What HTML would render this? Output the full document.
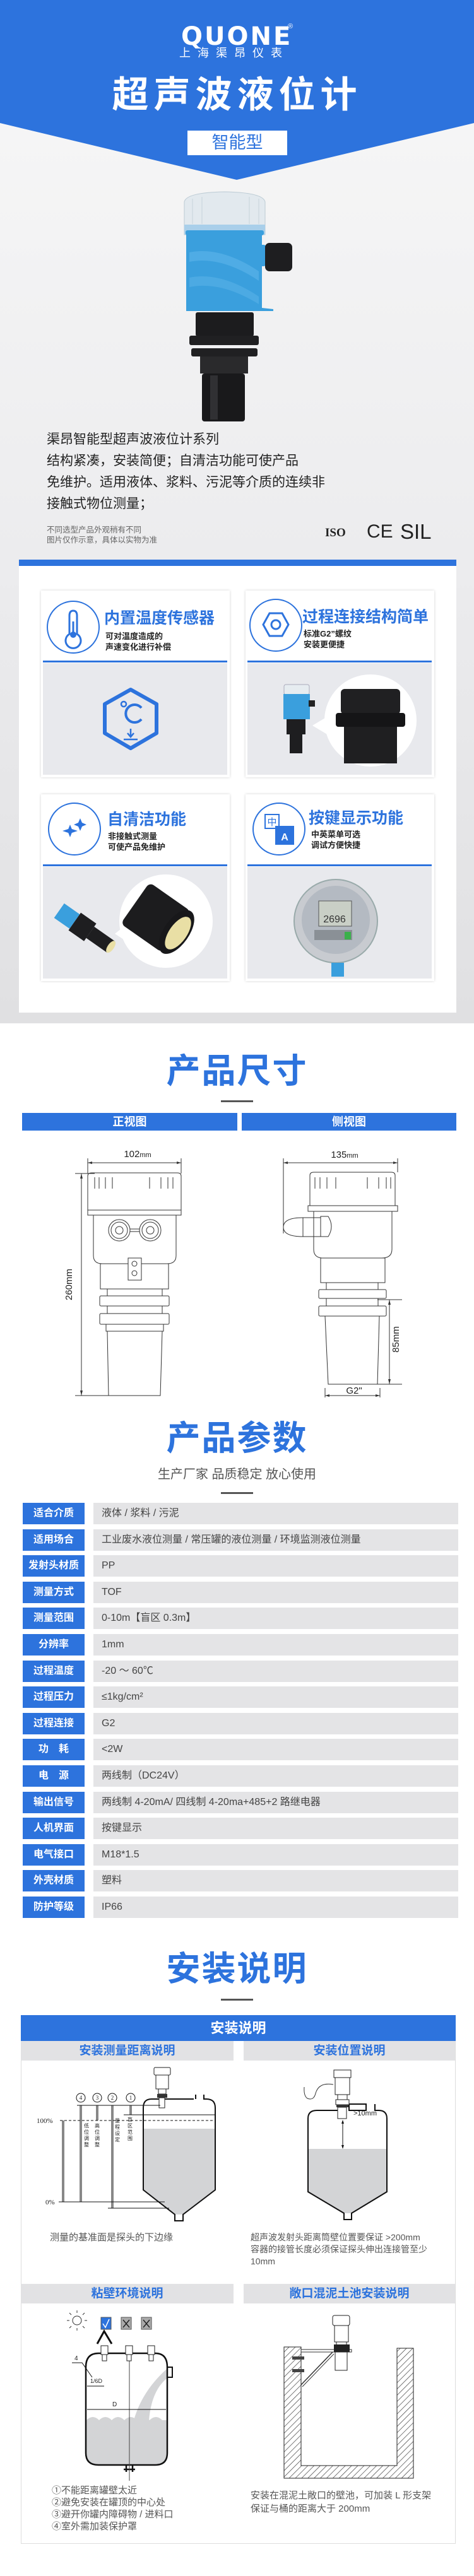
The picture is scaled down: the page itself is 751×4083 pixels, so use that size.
<!DOCTYPE html>
<html><head><meta charset="utf-8">
<style>
*{margin:0;padding:0;box-sizing:border-box}
body{width:751px;height:4083px;position:relative;background:#fff;font-family:"Liberation Sans","Noto Sans CJK SC",sans-serif;overflow:hidden}
.a{position:absolute;white-space:nowrap}
.h{font-weight:bold;color:#2d73dd;font-size:54px;line-height:60px;width:751px;left:0;text-align:center;letter-spacing:2px}
.div{position:absolute;left:350px;width:51px;height:3px;background:#555}
.card{position:absolute;width:299px;height:296px;background:#fff;box-shadow:0 0 4px rgba(0,0,0,.18)}
.ct{position:absolute;font-weight:bold;color:#2d73dd;font-size:25px;line-height:30px;white-space:nowrap}
.cs{position:absolute;font-weight:bold;color:#222;font-size:13px;line-height:17px;white-space:nowrap}
.row{position:absolute;left:36px;height:34px;width:690px}
.row .l{position:absolute;left:0;top:0;width:98px;height:34px;background:#2d73dd;color:#fff;font-weight:bold;font-size:16px;line-height:34px;text-align:center}
.row .v{position:absolute;left:112px;top:0;width:578px;height:34px;background:#e4e4e6;color:#444;font-size:16px;line-height:34px;padding-left:13px}
.sub{position:absolute;height:31px;background:#e2e2e4;color:#2d73dd;font-weight:bold;font-size:19px;line-height:31px;text-align:center}
.t15{font-size:15px;color:#555;line-height:19px}
</style></head><body>
<!-- top background -->
<div class="a" style="left:0;top:0;width:751px;height:1622px;background:linear-gradient(#f8f8f8,#ececee 55%,#e0e0e2)"></div>
<div class="a" style="left:30px;top:887px;width:693px;height:718px;background:#fff;border-top:10px solid #2d73dd"></div>

<svg class="a" style="left:0;top:0" width="751" height="4083" viewBox="0 0 751 4083" xmlns="http://www.w3.org/2000/svg">
<defs>
<pattern id="hat" width="7" height="7" patternUnits="userSpaceOnUse" patternTransform="rotate(45)"><rect width="7" height="7" fill="#fff"/><line x1="0" y1="0" x2="0" y2="7" stroke="#333" stroke-width="1.3"/></pattern>
</defs>
<polygon points="0,0 751,0 751,195 375,285 0,195" fill="#2d73dd"/>
<rect x="297" y="207" width="158" height="39" fill="#fff"/>
<!-- product -->
<g>
<rect x="310" y="495" width="92" height="38" rx="3" fill="#1c1c1e"/>
<rect x="300" y="532" width="110" height="15" rx="3" fill="#202022"/>
<rect x="303" y="552" width="105" height="13" rx="3" fill="#202022"/>
<rect x="317" y="565" width="76" height="27" fill="#2a2a2c"/>
<rect x="320" y="592" width="68" height="76" rx="4" fill="#19191b"/>
<rect x="333" y="595" width="12" height="70" fill="#303033"/>
<path d="M295,372 L415,372 L415,488 L433,490 L433,493 L295,493 Z" fill="#3a9fdd"/>
<path d="M300,400 Q350,390 410,430 L410,445 Q350,405 300,415Z" fill="#59b2e8" opacity=".7"/>
<path d="M300,440 Q350,430 410,470 L410,482 Q350,445 300,455Z" fill="#59b2e8" opacity=".6"/>
<rect x="395" y="388" width="30" height="34" rx="8" fill="#3a9fdd"/>
<rect x="420" y="385" width="43" height="45" rx="7" fill="#1e1e20"/>
<path d="M292,320 Q295,305 356,304 Q417,305 420,320 L420,372 L292,372Z" fill="#e2e9ee" stroke="#bccbd4"/>
<rect x="292" y="356" width="128" height="16" fill="#a9cfea"/>
<g stroke="#c6d2da"><line x1="305" y1="315" x2="305" y2="355"/><line x1="320" y1="312" x2="320" y2="355"/><line x1="395" y1="312" x2="395" y2="355"/><line x1="410" y1="315" x2="410" y2="355"/></g>
<rect x="294" y="365" width="124" height="8" rx="3" fill="#3a9fdd"/>
</g>
<!-- cards icons -->
<g fill="none" stroke="#2d73dd" stroke-width="2">
<circle cx="116" cy="994" r="41"/>
<circle cx="437" cy="991" r="41"/>
<circle cx="118" cy="1314" r="41"/>
<circle cx="442" cy="1314" r="41"/>
<path d="M110,1005 L110,976 Q110,968 116,968 Q122,968 122,976 L122,1005 A12,12 0 1 1 110,1005Z" stroke-width="3"/>
<polygon points="427,972 447,972 457,990 447,1008 427,1008 417,990" stroke-width="3"/>
<circle cx="437" cy="990" r="7" stroke-width="3"/>
<rect x="420" y="1291" width="22" height="22" stroke-width="2"/>
</g>
<circle cx="116" cy="1006" r="5" fill="#2d73dd"/>
<line x1="116" y1="985" x2="116" y2="1004" stroke="#2d73dd" stroke-width="3"/>
<path d="M111,1307 L115,1317 L111,1327 L107,1317Z M99,1317 L111,1313 L123,1317 L111,1321Z" fill="#2d73dd"/>
<path d="M127,1297 L130,1304 L137,1307 L130,1310 L127,1317 L124,1310 L117,1307 L124,1304Z" fill="#2d73dd"/>
<rect x="436" y="1309" width="30" height="30" fill="#2d73dd"/>
<text x="431" y="1308" font-size="15" fill="#2d73dd" text-anchor="middle" font-family="Noto Sans CJK SC">中</text>
<text x="451" y="1332" font-size="16" fill="#fff" font-weight="bold" text-anchor="middle" font-family="Liberation Sans">A</text>
<!-- card image bg -->
<rect x="68" y="1047" width="292" height="3" fill="#2d73dd"/>
<rect x="392" y="1047" width="292" height="3" fill="#2d73dd"/>
<rect x="68" y="1370" width="292" height="3" fill="#2d73dd"/>
<rect x="392" y="1370" width="292" height="3" fill="#2d73dd"/>
<rect x="68" y="1051" width="292" height="177" fill="#e8e9ed"/>
<rect x="392" y="1051" width="292" height="177" fill="#e8e9ed"/>
<rect x="68" y="1374" width="292" height="177" fill="#e8e9ed"/>
<rect x="392" y="1374" width="292" height="177" fill="#e8e9ed"/>
<polygon points="207,1093 248,1116 248,1162 207,1186 166,1162 166,1116" fill="none" stroke="#2d73dd" stroke-width="6" stroke-linejoin="round"/>
<circle cx="196" cy="1116" r="4" fill="none" stroke="#2d73dd" stroke-width="2.5"/>
<path d="M224,1122 A14,14 0 1 0 224,1140" fill="none" stroke="#2d73dd" stroke-width="4"/>
<path d="M207,1155 L207,1167 M202,1162 L207,1168 L212,1162 M196,1172 L218,1172" stroke="#2d73dd" stroke-width="2.5" fill="none"/>
<!-- card2 image -->
<rect x="450" y="1085" width="40" height="16" rx="3" fill="#e6ecf0" stroke="#aab"/>
<rect x="449" y="1100" width="42" height="40" fill="#3a9fdd"/>
<rect x="489" y="1110" width="10" height="10" fill="#222"/>
<rect x="454" y="1140" width="30" height="24" fill="#1e1e20"/>
<rect x="459" y="1164" width="20" height="30" fill="#1e1e20"/>
<polygon points="495,1150 520,1135 520,1165" fill="#fff"/>
<circle cx="587" cy="1142" r="73" fill="#fff"/>
<rect x="540" y="1092" width="94" height="40" rx="6" fill="#202022"/>
<rect x="532" y="1130" width="110" height="22" rx="4" fill="#151517"/>
<rect x="545" y="1152" width="84" height="58" fill="#1f1f21"/>
<!-- card3 image -->
<g transform="rotate(35 130 1470)"><rect x="85" y="1455" width="30" height="28" fill="#3a9fdd"/><rect x="115" y="1452" width="30" height="34" fill="#1e1e20"/><rect x="145" y="1458" width="40" height="22" fill="#1e1e20"/><ellipse cx="185" cy="1469" rx="5" ry="11" fill="#e9dfa5"/></g>
<polygon points="182,1480 205,1462 205,1495" fill="#fff"/>
<circle cx="263" cy="1460" r="74" fill="#fff"/>
<g transform="rotate(35 255 1460)"><rect x="205" y="1420" width="80" height="80" rx="8" fill="#1c1c1e"/><ellipse cx="285" cy="1460" rx="20" ry="40" fill="#18181a"/><ellipse cx="288" cy="1460" rx="14" ry="30" fill="#e9dfa5"/></g>
<!-- card4 image -->
<circle cx="532" cy="1460" r="66" fill="#c8cbd0" stroke="#9aa" stroke-width="2"/>
<circle cx="532" cy="1458" r="54" fill="#b4bac2"/>
<rect x="505" y="1428" width="52" height="40" fill="#c9cfc6" stroke="#555"/>
<text x="530" y="1462" font-size="16" fill="#333" text-anchor="middle" font-family="Liberation Sans">2696</text>
<rect x="498" y="1474" width="60" height="16" fill="#8a9096"/>
<rect x="546" y="1477" width="10" height="12" fill="#3ab04a"/>
<rect x="525" y="1526" width="20" height="22" fill="#3a9fdd"/>
<!-- dimension drawings -->
<g fill="none" stroke="#333" stroke-width="1">
<line x1="139" y1="1843" x2="287" y2="1843"/><line x1="139" y1="1836" x2="139" y2="1860"/><line x1="287" y1="1836" x2="287" y2="1860"/>
<line x1="119" y1="1860" x2="150" y2="1860"/><line x1="129" y1="1860" x2="129" y2="2212"/><line x1="119" y1="2212" x2="254" y2="2212"/>
<path d="M139,1864 Q139,1859 145,1859 L281,1859 Q287,1859 287,1864 L287,1918 L139,1918Z"/>
<rect x="139" y="1918" width="148" height="8"/>
<path d="M148,1926 L279,1926 L279,1990 Q279,2003 265,2003 L162,2003 Q148,2003 148,1990Z"/>
<circle cx="189" cy="1950" r="17"/><circle cx="189" cy="1950" r="13"/><circle cx="189" cy="1950" r="6"/>
<circle cx="238" cy="1950" r="17"/><circle cx="238" cy="1950" r="13"/><circle cx="238" cy="1950" r="6"/>
<line x1="206" y1="1948" x2="221" y2="1948"/><line x1="206" y1="1952" x2="221" y2="1952"/>
<rect x="159" y="2003" width="108" height="40"/>
<rect x="203" y="1994" width="21" height="35" fill="#fff"/>
<circle cx="213" cy="2003" r="4"/><circle cx="213" cy="2018" r="4"/>
<rect x="170" y="2043" width="87" height="11"/>
<rect x="158" y="2054" width="110" height="16" rx="2"/><rect x="170" y="2070" width="87" height="12"/>
<rect x="158" y="2082" width="110" height="17" rx="2"/>
<rect x="168" y="2099" width="91" height="11"/>
<path d="M170,2110 L257,2110 L254,2212 L172,2212Z"/>
<g stroke-width="1"><line x1="150" y1="1866" x2="150" y2="1884"/><line x1="157" y1="1866" x2="157" y2="1884"/><line x1="167" y1="1866" x2="167" y2="1884"/><line x1="178" y1="1866" x2="178" y2="1884"/><line x1="237" y1="1866" x2="237" y2="1884"/><line x1="255" y1="1866" x2="255" y2="1884"/><line x1="266" y1="1866" x2="266" y2="1884"/><line x1="274" y1="1866" x2="274" y2="1884"/></g>
<line x1="449" y1="1843" x2="630" y2="1843"/><line x1="449" y1="1836" x2="449" y2="1955"/><line x1="630" y1="1836" x2="630" y2="1858"/>
<path d="M491,1863 Q491,1858 497,1858 L620,1858 Q626,1858 626,1863 L626,1911 L491,1911Z"/>
<rect x="488" y="1911" width="142" height="9"/>
<path d="M497,1920 L621,1920 L621,1980 Q621,1994 605,1994 L512,1994 Q497,1994 497,1980Z"/>
<path d="M508,1928 L520,1928 Q530,1944 520,1960 L508,1960Z"/>
<rect x="480" y="1930" width="28" height="30"/><path d="M480,1930 Q449,1930 449,1945 Q449,1960 480,1960"/>
<rect x="508" y="1994" width="102" height="39"/>
<rect x="517" y="2033" width="82" height="11"/>
<rect x="505" y="2044" width="107" height="14" rx="2"/><rect x="517" y="2058" width="82" height="12"/>
<rect x="505" y="2070" width="107" height="16" rx="2"/>
<path d="M515,2086 L601,2086 L598,2194 L520,2194Z"/>
<line x1="598" y1="2060" x2="637" y2="2060"/><line x1="598" y1="2194" x2="637" y2="2194"/><line x1="617" y1="2060" x2="617" y2="2194"/>
<line x1="515" y1="2200" x2="515" y2="2215"/><line x1="602" y1="2200" x2="602" y2="2215"/><line x1="515" y1="2212" x2="602" y2="2212"/>
<g><line x1="499" y1="1866" x2="499" y2="1884"/><line x1="507" y1="1866" x2="507" y2="1884"/><line x1="518" y1="1866" x2="518" y2="1884"/><line x1="532" y1="1866" x2="532" y2="1884"/><line x1="582" y1="1866" x2="582" y2="1884"/><line x1="600" y1="1866" x2="600" y2="1884"/><line x1="612" y1="1866" x2="612" y2="1884"/><line x1="619" y1="1866" x2="619" y2="1884"/></g>
</g>
<g fill="#333">
<polygon points="139,1843 146,1841 146,1845"/><polygon points="287,1843 280,1841 280,1845"/>
<polygon points="129,1860 127,1868 131,1868"/><polygon points="129,2212 127,2204 131,2204"/>
<polygon points="449,1843 456,1841 456,1845"/><polygon points="630,1843 623,1841 623,1845"/>
<polygon points="617,2060 615,2068 619,2068"/><polygon points="617,2194 615,2186 619,2186"/>
<polygon points="515,2212 522,2210 522,2214"/><polygon points="602,2212 595,2210 595,2214"/>
</g>
<text x="218" y="1834" font-size="15" fill="#222" text-anchor="middle" font-family="Liberation Sans">102<tspan font-size="11">mm</tspan></text>
<text x="546" y="1835" font-size="15" fill="#222" text-anchor="middle" font-family="Liberation Sans">135<tspan font-size="11">mm</tspan></text>
<text transform="translate(114,2036) rotate(-90)" font-size="15" fill="#222" text-anchor="middle" font-family="Liberation Sans">260mm</text>
<text transform="translate(632,2123) rotate(-90)" font-size="15" fill="#222" text-anchor="middle" font-family="Liberation Sans">85mm</text>
<text x="561" y="2209" font-size="15" fill="#222" text-anchor="middle" font-family="Liberation Sans">G2"</text>
<!-- install box -->
<rect x="33.5" y="3194.5" width="688" height="837" fill="none" stroke="#ddd"/>
<!-- left install diagram -->
<path d="M227,3374 L341,3374 L341,3471 L290,3510 L277,3510 L227,3471Z" fill="#d3d4d6"/>
<path d="M307,3327 L240,3327 Q227,3327 227,3341 L227,3471 L277,3510 L277,3520 L290,3520 L290,3510 L341,3471 L341,3341 Q341,3327 327,3327 L323,3327 L323,3320 M310,3320 L310,3327" fill="none" stroke="#111" stroke-width="2"/>
<rect x="244" y="3277" width="26" height="12" rx="2" fill="#fff" stroke="#222"/>
<rect x="247" y="3289" width="20" height="22" fill="#fff" stroke="#222"/>
<rect x="251" y="3311" width="12" height="8" fill="#fff" stroke="#222"/>
<rect x="249" y="3319" width="16" height="6" fill="#333"/>
<rect x="252" y="3325" width="9" height="16" fill="#fff" stroke="#222"/>
<g stroke="#111" fill="none" stroke-width="1">
<line x1="122" y1="3337" x2="254" y2="3337"/>
<line x1="95" y1="3361" x2="341" y2="3361" stroke-dasharray="4,3"/>
<line x1="196" y1="3352" x2="341" y2="3352"/>
<line x1="93" y1="3490" x2="261" y2="3490"/>
<line x1="171" y1="3500" x2="268" y2="3500"/>
<line x1="99" y1="3361" x2="99" y2="3490"/><line x1="101" y1="3361" x2="101" y2="3490"/>
<line x1="127" y1="3337" x2="127" y2="3490"/><line x1="129" y1="3337" x2="129" y2="3490"/>
<line x1="153" y1="3337" x2="153" y2="3361"/><line x1="155" y1="3337" x2="155" y2="3361"/>
<line x1="177" y1="3337" x2="177" y2="3500"/><line x1="179" y1="3337" x2="179" y2="3500"/>
<line x1="206" y1="3337" x2="206" y2="3352"/><line x1="208" y1="3337" x2="208" y2="3352"/>
<circle cx="128" cy="3325" r="7"/><circle cx="154" cy="3325" r="7"/><circle cx="178" cy="3325" r="7"/><circle cx="207" cy="3325" r="7"/>
</g>
<g font-size="9" fill="#222" text-anchor="middle" font-family="Liberation Serif"><text x="128" y="3328">4</text><text x="154" y="3328">3</text><text x="178" y="3328">2</text><text x="207" y="3328">1</text></g>
<text x="58" y="3365" font-size="11" fill="#222" font-family="Liberation Serif">100%</text>
<text x="72" y="3494" font-size="11" fill="#222" font-family="Liberation Serif">0%</text>
<g font-size="8" fill="#222" font-family="Noto Sans CJK SC" text-anchor="middle">
<text x="137" y="3372">低</text><text x="137" y="3382">位</text><text x="137" y="3392">调</text><text x="137" y="3402">整</text>
<text x="154" y="3372">高</text><text x="154" y="3382">位</text><text x="154" y="3392">调</text><text x="154" y="3402">整</text>
<text x="186" y="3364">量</text><text x="186" y="3374">程</text><text x="186" y="3384">设</text><text x="186" y="3394">定</text>
<text x="206" y="3362">盲</text><text x="206" y="3372">区</text><text x="206" y="3382">范</text><text x="206" y="3392">围</text>
</g>
<!-- right install diagram -->
<path d="M488,3406 L613,3406 L613,3474 L556,3508 L546,3508 L488,3474Z" fill="#d3d4d6"/>
<path d="M535,3345 L502,3345 Q488,3345 488,3358 L488,3474 L545,3508 L545,3518 L557,3518 L557,3508 L613,3474 L613,3358 Q613,3345 600,3345 L594,3345 L594,3335 M580,3335 L580,3345 L553,3345 L553,3335 L535,3335Z" fill="none" stroke="#111" stroke-width="2"/>
<rect x="529" y="3281" width="27" height="12" fill="#fff" stroke="#222"/>
<rect x="531" y="3293" width="23" height="27" fill="#fff" stroke="#222"/>
<rect x="535" y="3320" width="15" height="8" fill="#fff" stroke="#222"/>
<rect x="532" y="3328" width="21" height="8" fill="#fff" stroke="#222"/>
<rect x="533" y="3336" width="19" height="4" fill="#333"/>
<rect x="535" y="3340" width="14" height="18" fill="#fff" stroke="#222"/>
<path d="M528,3304 Q505,3300 500,3318 Q497,3330 487,3326 Q481,3322 482,3308" fill="none" stroke="#333"/>
<line x1="543" y1="3361" x2="543" y2="3405" stroke="#111"/>
<polygon points="543,3360 541,3366 545,3366" fill="#111"/><polygon points="543,3406 541,3400 545,3400" fill="#111"/>
<text x="560" y="3353" font-size="11" fill="#222" font-family="Liberation Sans">&gt;10mm</text>
<!-- row2 left diagram -->
<path d="M137,3836 Q147,3826 157,3836 Q167,3826 177,3836 Q187,3826 197,3836 Q207,3826 217,3836 Q227,3826 237,3836 Q247,3826 257,3836 L264,3836 L264,3888 Q264,3906 246,3906 L155,3906 Q137,3906 137,3888Z" fill="#d3d4d6"/>
<path d="M264,3755 Q225,3790 212,3836 L236,3836 Q240,3790 264,3770Z" fill="#d3d4d6"/>
<path d="M156,3730 L246,3730 Q265,3730 265,3752 L265,3888 Q265,3907 246,3907 L156,3907 Q136,3907 136,3888 L136,3752 Q136,3730 156,3730Z" fill="none" stroke="#111" stroke-width="2.5"/>
<rect x="265" y="3752" width="8" height="16" fill="none" stroke="#111" stroke-width="2"/>
<path d="M200,3907 L200,3918 M210,3907 L210,3918 M196,3914 L214,3914" stroke="#111" stroke-width="2.5"/>
<line x1="205" y1="3725" x2="205" y2="3932" stroke="#444"/>
<line x1="138" y1="3819" x2="263" y2="3819" stroke="#111"/>
<text x="178" y="3814" font-size="10" fill="#222" font-family="Liberation Sans">D</text>
<text x="143" y="3777" font-size="9" fill="#222" font-family="Liberation Sans">1/6D</text>
<line x1="138" y1="3782" x2="165" y2="3782" stroke="#111"/>
<text x="118" y="3741" font-size="10" fill="#222" font-family="Liberation Sans">4</text>
<path d="M114,3745 L130,3745 L146,3768" fill="none" stroke="#111"/>
<circle cx="122" cy="3678" r="7" fill="none" stroke="#333"/>
<g stroke="#333"><line x1="122" y1="3666" x2="122" y2="3662"/><line x1="122" y1="3690" x2="122" y2="3694"/><line x1="110" y1="3678" x2="106" y2="3678"/><line x1="134" y1="3678" x2="138" y2="3678"/><line x1="113" y1="3669" x2="110" y2="3666"/><line x1="131" y1="3687" x2="134" y2="3690"/><line x1="131" y1="3669" x2="134" y2="3666"/><line x1="113" y1="3687" x2="110" y2="3690"/></g>
<rect x="160" y="3673" width="16" height="19" fill="#2d73dd" stroke="#555"/>
<path d="M163,3683 L167,3689 L173,3676" stroke="#fff" fill="none" stroke-width="1.5"/>
<rect x="192" y="3673" width="16" height="19" fill="#aaa" stroke="#555"/>
<rect x="224" y="3673" width="16" height="19" fill="#aaa" stroke="#555"/>
<path d="M195,3677 L205,3689 M205,3677 L195,3689 M227,3677 L237,3689 M237,3677 L227,3689" stroke="#222" stroke-width="1.5"/>
<path d="M154,3715 L165,3695 L177,3715" fill="none" stroke="#111" stroke-width="3"/>
<g fill="#fff" stroke="#222"><rect x="160" y="3718" width="11" height="14"/><rect x="162" y="3732" width="7" height="10"/><rect x="199" y="3718" width="11" height="14"/><rect x="201" y="3732" width="7" height="10"/><rect x="234" y="3718" width="11" height="14"/><rect x="236" y="3732" width="7" height="10"/></g>
<!-- row2 right diagram -->
<path d="M450,3720 L477,3720 L477,3908 L629,3908 L629,3722 L655,3722 L655,3928 L450,3928Z" fill="url(#hat)" stroke="#222"/>
<rect x="477" y="3724" width="80" height="4" fill="#fff" stroke="#333"/>
<line x1="477" y1="3780" x2="527" y2="3728" stroke="#333" stroke-width="1.5"/>
<line x1="479" y1="3783" x2="529" y2="3731" stroke="#333"/>
<rect x="463" y="3735" width="19" height="5" fill="#444"/><rect x="463" y="3755" width="19" height="5" fill="#444"/>
<rect x="527" y="3670" width="27" height="16" rx="3" fill="#fff" stroke="#222"/>
<rect x="530" y="3686" width="22" height="26" fill="#fff" stroke="#222"/>
<rect x="533" y="3712" width="16" height="10" fill="#fff" stroke="#222"/>
<rect x="529" y="3716" width="25" height="12" fill="#222"/>
<rect x="531" y="3728" width="19" height="29" fill="#fff" stroke="#222"/>
</svg>

<!-- header text -->
<div class="a" style="left:287px;top:36px;font-size:40px;font-weight:bold;color:#fff;letter-spacing:3px;line-height:44px;font-family:'DejaVu Sans','Liberation Sans',sans-serif">QUONE</div>
<div class="a" style="left:456px;top:36px;font-size:11px;color:#fff">®</div>
<div class="a" style="left:284px;top:72px;font-size:18px;color:#fff;letter-spacing:11px;line-height:24px">上海渠昂仪表</div>
<div class="a" style="left:0;width:751px;text-align:center;top:118px;font-size:58px;font-weight:bold;color:#fff;letter-spacing:8px;line-height:66px">超声波液位计</div>
<div class="a" style="left:297px;width:158px;text-align:center;top:208px;font-size:27px;color:#2d73dd;line-height:36px">智能型</div>
<div class="a" style="left:74px;top:680px;font-size:21px;color:#222;line-height:34px">渠昂智能型超声波液位计系列<br>结构紧凑，安装简便；自清洁功能可使产品<br>免维护。适用液体、浆料、污泥等介质的连续非<br>接触式物位测量；</div>
<div class="a" style="left:74px;top:832px;font-size:12.5px;color:#666;line-height:16px">不同选型产品外观稍有不同<br>图片仅作示意，具体以实物为准</div>
<div class="a" style="left:515px;top:834px;font-size:19px;font-weight:bold;color:#222;font-family:'Liberation Serif',serif">ISO</div>
<div class="a" style="left:581px;top:826px;font-size:30px;color:#222">CE</div>
<div class="a" style="left:634px;top:824px;font-size:33px;color:#222">SIL</div>

<!-- card frames (transparent so svg shows) -->
<div class="card" style="left:65px;top:936px;background:transparent"></div>
<div class="card" style="left:389px;top:936px;background:transparent"></div>
<div class="card" style="left:65px;top:1259px;background:transparent"></div>
<div class="card" style="left:389px;top:1259px;background:transparent"></div>
<div class="ct" style="left:165px;top:965px">内置温度传感器</div>
<div class="cs" style="left:167px;top:1000px">可对温度造成的<br>声速变化进行补偿</div>
<div class="ct" style="left:479px;top:963px">过程连接结构简单</div>
<div class="cs" style="left:481px;top:996px">标准G2”螺纹<br>安装更便捷</div>
<div class="ct" style="left:170px;top:1284px">自清洁功能</div>
<div class="cs" style="left:171px;top:1317px">非接触式测量<br>可使产品免维护</div>
<div class="ct" style="left:489px;top:1282px">按键显示功能</div>
<div class="cs" style="left:493px;top:1314px">中英菜单可选<br>调试方便快捷</div>

<!-- size -->
<div class="a h" style="top:1668px">产品尺寸</div>
<div class="div" style="top:1744px"></div>
<div class="a" style="left:35px;top:1764px;width:341px;height:28px;background:#2d73dd;color:#fff;font-weight:bold;font-size:18px;line-height:28px;text-align:center">正视图</div>
<div class="a" style="left:383px;top:1764px;width:340px;height:28px;background:#2d73dd;color:#fff;font-weight:bold;font-size:18px;line-height:28px;text-align:center">侧视图</div>

<!-- params -->
<div class="a h" style="top:2250px">产品参数</div>
<div class="a" style="left:0;width:751px;text-align:center;top:2324px;font-size:20px;color:#555;line-height:26px">生产厂家 品质稳定 放心使用</div>
<div class="div" style="top:2365px"></div>
<div class="row" style="top:2382px"><div class="l">适合介质</div><div class="v">液体 / 浆料 / 污泥</div></div>
<div class="row" style="top:2424px"><div class="l">适用场合</div><div class="v">工业废水液位测量 / 常压罐的液位测量 / 环境监测液位测量</div></div>
<div class="row" style="top:2465px"><div class="l">发射头材质</div><div class="v">PP</div></div>
<div class="row" style="top:2507px"><div class="l">测量方式</div><div class="v">TOF</div></div>
<div class="row" style="top:2548px"><div class="l">测量范围</div><div class="v">0-10m【盲区 0.3m】</div></div>
<div class="row" style="top:2590px"><div class="l">分辨率</div><div class="v">1mm</div></div>
<div class="row" style="top:2632px"><div class="l">过程温度</div><div class="v">-20 ～ 60℃</div></div>
<div class="row" style="top:2673px"><div class="l">过程压力</div><div class="v">≤1kg/cm²</div></div>
<div class="row" style="top:2715px"><div class="l">过程连接</div><div class="v">G2</div></div>
<div class="row" style="top:2756px"><div class="l">功　耗</div><div class="v">&lt;2W</div></div>
<div class="row" style="top:2798px"><div class="l">电　源</div><div class="v">两线制（DC24V）</div></div>
<div class="row" style="top:2840px"><div class="l">输出信号</div><div class="v">两线制 4-20mA/ 四线制 4-20ma+485+2 路继电器</div></div>
<div class="row" style="top:2881px"><div class="l">人机界面</div><div class="v">按键显示</div></div>
<div class="row" style="top:2923px"><div class="l">电气接口</div><div class="v">M18*1.5</div></div>
<div class="row" style="top:2964px"><div class="l">外壳材质</div><div class="v">塑料</div></div>
<div class="row" style="top:3006px"><div class="l">防护等级</div><div class="v">IP66</div></div>

<!-- install -->
<div class="a h" style="top:3091px">安装说明</div>
<div class="div" style="top:3168px"></div>
<div class="a" style="left:33px;top:3194px;width:689px;height:41px;background:#2d73dd;color:#fff;font-weight:bold;font-size:22px;line-height:41px;text-align:center">安装说明</div>
<div class="sub" style="left:33px;top:3235px;width:337px">安装测量距离说明</div>
<div class="sub" style="left:386px;top:3235px;width:335px">安装位置说明</div>
<div class="a t15" style="left:79px;top:3537px">测量的基准面是探头的下边缘</div>
<div class="a" style="left:397px;top:3537px;font-size:14px;color:#555;line-height:19px">超声波发射头距离筒壁位置要保证 &gt;200mm<br>容器的接管长度必须保证探头伸出连接管至少<br>10mm</div>
<div class="sub" style="left:33px;top:3620px;width:337px">粘壁环境说明</div>
<div class="sub" style="left:386px;top:3620px;width:335px">敞口混泥土池安装说明</div>
<div class="a t15" style="left:82px;top:3938px">①不能距离罐壁太近<br>②避免安装在罐顶的中心处<br>③避开你罐内障碍物 / 进料口<br>④室外需加装保护罩</div>
<div class="a t15" style="left:397px;top:3945px;line-height:21px">安装在混泥土敞口的壁池，可加装 L 形支架<br>保证与桶的距离大于 200mm</div>
</body></html>
